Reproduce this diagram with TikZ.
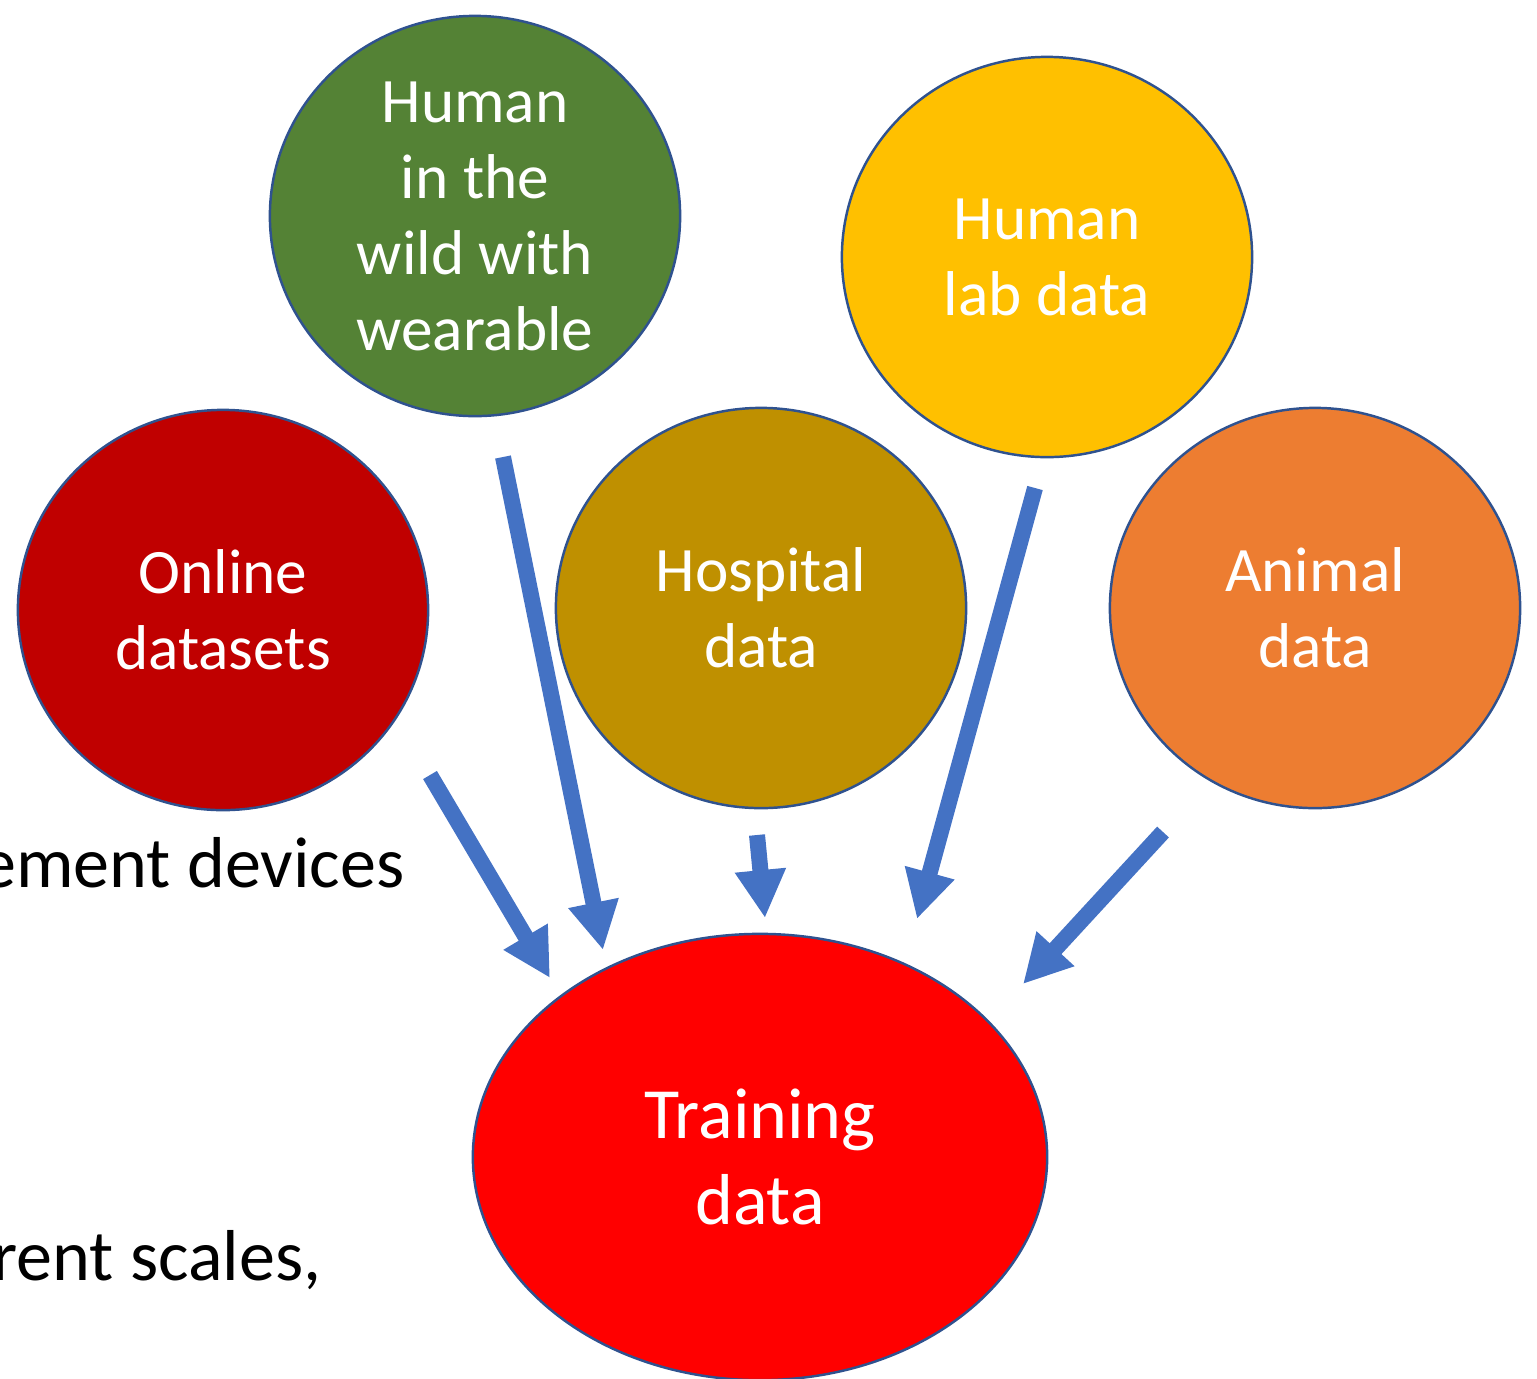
\documentclass[tikz,border=0pt]{standalone}
\usepackage{fontspec}
\setmainfont{Carlito}
\usetikzlibrary{shapes.geometric,arrows.meta}
\definecolor{cgreen}{HTML}{548235}
\definecolor{cyellow}{HTML}{FFC000}
\definecolor{cdarkred}{HTML}{C00000}
\definecolor{colive}{HTML}{BF9000}
\definecolor{corange}{HTML}{ED7D31}
\definecolor{cred}{HTML}{FF0000}
\definecolor{cedge}{HTML}{2F528F}
\definecolor{carrow}{HTML}{4472C4}
\tikzset{
  src/.style={ellipse, draw=cedge, line width=0.7pt, inner sep=0pt,
    minimum width=4.1cm, minimum height=4.0cm, text=white, align=center,
    font=\fontsize{18}{21.6}\selectfont},
  dst/.style={ellipse, draw=cedge, line width=0.7pt, inner sep=0pt, fill=cred,
    minimum width=5.74cm, minimum height=4.46cm, text=white, align=center,
    font=\fontsize{20.5}{24.5}\selectfont},
  bigarrow/.style={draw=carrow, line width=0.16cm,
    -{Triangle[width=0.48cm,length=0.48cm]}},
  bgtext/.style={font=\fontsize{20.5}{24.5}\selectfont, text=black, inner sep=0pt}
}
\begin{document}
\begin{tikzpicture}[x=0.01cm,y=-0.01cm]
\useasboundingbox (0,0) rectangle (1537,1378);
% background texts (cut off at the left edge, as in the reference)
\node[bgtext, anchor=base east] (t1) at (405,887) {ement devices};
\node[bgtext, anchor=base east] (t2) at (322,1280) {rent scales,};
% source circles
\node[src, fill=cgreen] (wild) at (475,216) {Human\\in the\\wild with\\wearable};
\node[src, fill=cyellow] (lab) at (1047,257) {Human\\lab data};
\node[src, fill=cdarkred] (online) at (223,610) {Online\\datasets};
\node[src, fill=colive] (hosp) at (761,608) {Hospital\\data};
\node[src, fill=corange] (animal) at (1315,608) {Animal\\data};
% target
\node[dst] (train) at (760,1157) {Training\\data};
% arrow endpoints
\coordinate (a1s) at (430,775);  \coordinate (a1e) at (550,978);
\coordinate (a2s) at (503,457);  \coordinate (a2e) at (603,950);
\coordinate (a3s) at (757,835);  \coordinate (a3e) at (765,918);
\coordinate (a4s) at (1035,488); \coordinate (a4e) at (917,919);
\coordinate (a5s) at (1163,832); \coordinate (a5e) at (1023,984);
\draw[bigarrow] (a1s) -- (a1e);
\draw[bigarrow] (a2s) -- (a2e);
\draw[bigarrow] (a3s) -- (a3e);
\draw[bigarrow] (a4s) -- (a4e);
\draw[bigarrow] (a5s) -- (a5e);
\end{tikzpicture}
\end{document}
